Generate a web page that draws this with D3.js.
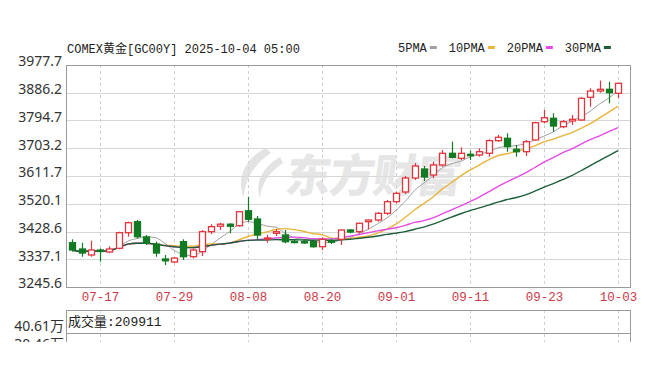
<!DOCTYPE html>
<html>
<head>
<meta charset="utf-8">
<script src="https://cdn.jsdelivr.net/npm/d3@7"></script>
<style>
body { margin: 0; background: #fff; }
svg { display: block; }
</style>
</head>
<body>
<svg id="chart"></svg>
<script>
// trading days shown on the chart
var dates = ["07-14","07-15","07-16","07-17","07-18","07-21","07-22","07-23","07-24","07-25",
             "07-28","07-29","07-30","07-31","08-01","08-04","08-05","08-06","08-07","08-08",
             "08-11","08-12","08-13","08-14","08-15","08-18","08-19","08-20","08-21","08-22",
             "08-25","08-26","08-27","08-28","08-29","09-01","09-02","09-03","09-04","09-05",
             "09-08","09-09","09-10","09-11","09-12","09-15","09-16","09-17","09-18","09-19",
             "09-22","09-23","09-24","09-25","09-26","09-29","09-30","10-01","10-02","10-03"];

var openPx  = [3391.7,3370.9,3351.1,3367.6,3361.0,3373.2,3424.7,3461.0,3410.5,3387.4,
               3338.0,3328.0,3395.0,3345.5,3362.0,3428.0,3446.0,3452.7,3447.7,3497.0,
               3469.8,3403.9,3422.7,3417.1,3396.0,3395.0,3395.0,3378.5,3397.3,3402.9,
               3433.6,3428.0,3461.0,3466.5,3488.6,3526.9,3558.9,3605.0,3634.7,3614.9,
               3647.9,3686.5,3670.0,3683.2,3680.9,3686.5,3728.1,3736.0,3699.7,3691.8,
               3730.4,3790.7,3801.9,3774.2,3793.0,3796.3,3871.2,3892.0,3897.6,3884.4];
var highPx  = [3402.9,3391.7,3398.3,3373.0,3380.0,3428.0,3461.0,3466.5,3417.0,3395.0,
               3351.0,3344.0,3402.9,3373.0,3433.6,3452.4,3457.6,3455.7,3496.0,3543.4,
               3479.7,3417.0,3435.9,3433.6,3400.6,3402.9,3397.0,3409.5,3402.9,3436.0,
               3436.9,3457.6,3468.0,3491.9,3532.5,3559.9,3611.6,3654.5,3644.6,3658.8,
               3697.4,3724.8,3706.3,3695.1,3703.0,3732.7,3746.9,3752.5,3713.9,3730.4,
               3790.7,3829.3,3818.4,3796.3,3812.8,3871.2,3900.9,3925.9,3922.6,3919.3];
var lowPx   = [3362.0,3345.5,3345.5,3329.0,3357.0,3370.0,3411.5,3406.0,3384.0,3345.5,
               3318.0,3324.0,3334.6,3340.0,3347.8,3420.0,3433.6,3422.7,3445.0,3460.9,
               3400.6,3391.7,3413.8,3389.7,3389.7,3387.4,3375.2,3367.6,3387.4,3384.1,
               3422.7,3422.7,3435.9,3461.0,3483.0,3521.6,3552.3,3598.5,3595.2,3604.0,
               3642.3,3670.0,3664.4,3664.4,3675.3,3675.3,3724.8,3691.8,3675.3,3677.6,
               3728.1,3785.4,3757.7,3769.0,3779.8,3794.0,3840.2,3886.3,3851.4,3867.9];
var closePx = [3367.6,3357.7,3367.6,3362.7,3371.0,3424.7,3457.6,3411.5,3390.7,3357.7,
               3332.0,3341.0,3345.5,3367.6,3428.0,3444.5,3452.7,3446.0,3493.9,3468.9,
               3417.0,3407.2,3428.0,3395.0,3394.0,3391.7,3378.5,3402.9,3394.0,3433.6,
               3427.0,3455.7,3466.5,3488.6,3526.9,3554.6,3605.0,3644.6,3608.3,3647.9,
               3686.5,3673.3,3686.5,3678.6,3691.8,3728.1,3739.3,3708.3,3691.8,3724.8,
               3787.4,3803.9,3776.5,3790.7,3798.6,3867.9,3892.0,3897.6,3886.3,3917.3];

var yTicks = [3245.6,3337.1,3428.6,3520.1,3611.7,3703.2,3794.7,3886.2,3977.7];
var xTicks = ["07-17","07-29","08-08","08-20","09-01","09-11","09-23","10-03"];
var maPeriods = [5, 10, 20, 30];
var volTicks = ["40.61万", "30.46万"];
var lastVolume = 209911;

var width = 650, height = 366,
    plotLeft = 66, plotRight = 630, plotTop = 65, plotBottom = 287,
    volTop = 310;

var upColor = "#e2343c", downColor = "#127a22";
var maColors = ["#a0a0a0", "#e9b43c", "#e64be6", "#1d5e3a"];
var monoFont = "'Liberation Mono', 'Noto Sans CJK SC', monospace";

var svg = d3.select("#chart")
    .attr("width", width)
    .attr("height", height)
    .style("font-family", "'Noto Sans', 'Noto Sans CJK SC', sans-serif");

var x = d3.scalePoint()
    .domain(dates)
    .range([72.25, 618]);

var y = d3.scaleLinear()
    .domain([yTicks[0], yTicks[yTicks.length - 1]])
    .range([plotBottom, plotTop]);

// horizontal grid
svg.append("g")
    .selectAll("line")
    .data(yTicks.slice(1, -1))
    .enter()
    .append("line")
    .attr("x1", plotLeft).attr("x2", plotRight)
    .attr("y1", function (d) { return Math.round(y(d)) + 0.5; })
    .attr("y2", function (d) { return Math.round(y(d)) + 0.5; })
    .style("stroke", "#d6d6d6");

// vertical dashed grid, price panel and volume panel
[[plotTop, plotBottom], [volTop, height]].forEach(function (span) {
    svg.append("g")
        .selectAll("line")
        .data(xTicks)
        .enter()
        .append("line")
        .attr("x1", function (d) { return Math.round(x(d)) + 0.5; })
        .attr("x2", function (d) { return Math.round(x(d)) + 0.5; })
        .attr("y1", span[0]).attr("y2", span[1])
        .style("stroke", "#cfcfcf")
        .style("stroke-dasharray", "3,3");
});

// watermark
var wm = svg.append("g").style("opacity", 0.75);
wm.append("path")
    .attr("d", "M266,148 C247,157 235,177 244,198 C244,181 254,164 271,153 Z M280,157 C264,166 254,182 260,198 C261,185 269,172 283,163 Z")
    .style("fill", "#dadada");
wm.append("text")
    .attr("x", 284).attr("y", 192)
    .attr("transform", "skewX(-8) translate(27,0)")
    .attr("textLength", 176)
    .style("font-family", "'Noto Sans CJK SC', sans-serif")
    .style("font-weight", 900)
    .style("font-size", "45px")
    .style("fill", "#dedede")
    .text("东方财富");

// moving averages, computed from the closes
maPeriods.forEach(function (n, k) {
    var ma = closePx.map(function (c, i) {
        return d3.mean(closePx.slice(Math.max(0, i - n + 1), i + 1));
    });
    var line = d3.line()
        .x(function (d, i) { return x(dates[i]); })
        .y(function (d) { return y(d); })
        .curve(d3.curveMonotoneX);
    svg.append("path")
        .datum(ma)
        .attr("d", line)
        .style("fill", "none")
        .style("stroke", maColors[k])
        .style("stroke-width", k === 0 ? 1 : 1.4);
});

// candles
var candle = svg.append("g")
    .selectAll("g")
    .data(dates)
    .enter()
    .append("g");

function isUp(i) { return closePx[i] >= openPx[i]; }

candle.append("line")
    .attr("x1", function (d) { return Math.round(x(d)) + 0.5; })
    .attr("x2", function (d) { return Math.round(x(d)) + 0.5; })
    .attr("y1", function (d, i) { return y(highPx[i]); })
    .attr("y2", function (d, i) { return y(lowPx[i]); })
    .style("stroke", function (d, i) { return isUp(i) ? upColor : downColor; })
    .style("stroke-width", 1.2);

candle.append("rect")
    .attr("x", function (d) { return Math.round(x(d)) - 2.5; })
    .attr("width", 6)
    .attr("y", function (d, i) { return y(Math.max(openPx[i], closePx[i])); })
    .attr("height", function (d, i) { return Math.max(1.2, Math.abs(y(openPx[i]) - y(closePx[i]))); })
    .style("fill", function (d, i) { return isUp(i) ? "#fff" : downColor; })
    .style("stroke", function (d, i) { return isUp(i) ? upColor : downColor; })
    .style("stroke-width", 1.3);

// frame
svg.append("rect")
    .attr("x", plotLeft + 0.5).attr("y", plotTop + 0.5)
    .attr("width", plotRight - plotLeft).attr("height", plotBottom - plotTop)
    .style("fill", "none")
    .style("stroke", "#9a9a9a");

// y axis
var yAxis = svg.append("g")
    .attr("transform", "translate(" + plotLeft + ",0)")
    .call(d3.axisLeft(y).tickValues(yTicks).tickFormat(d3.format(".1f")).tickSize(0).tickPadding(4));
yAxis.select(".domain").remove();
yAxis.selectAll("text")
    .attr("dy", "0.07em")
    .style("font-family", "'Noto Sans', sans-serif")
    .style("font-size", "14px")
    .style("fill", "#333");

// x axis
var xAxis = svg.append("g")
    .attr("transform", "translate(0," + plotBottom + ")")
    .call(d3.axisBottom(x).tickValues(xTicks).tickSize(0).tickPadding(5.5));
xAxis.select(".domain").remove();
xAxis.selectAll("text")
    .style("font-family", monoFont)
    .style("font-size", "12.5px")
    .style("fill", "#cc3a4a");

// title and legend
svg.append("text")
    .attr("x", 67).attr("y", 53)
    .style("font-family", monoFont)
    .style("font-size", "12px")
    .style("fill", "#222")
    .text("COMEX黄金[GC00Y] 2025-10-04 05:00");

var lx = 398;
maPeriods.forEach(function (n, k) {
    var t = svg.append("text")
        .attr("x", lx).attr("y", 52)
        .style("font-family", monoFont)
        .style("font-size", "12px")
        .style("fill", "#222")
        .text(n + "PMA");
    var w = t.node().getComputedTextLength();
    svg.append("rect")
        .attr("x", lx + w + 3).attr("y", 46)
        .attr("width", 7).attr("height", 3)
        .style("fill", maColors[k]);
    lx += w + 3 + 7 + 12;
});

// volume panel (only its top part is visible)
svg.append("rect")
    .attr("x", plotLeft + 0.5).attr("y", volTop + 0.5)
    .attr("width", plotRight - plotLeft).attr("height", 80)
    .style("fill", "none")
    .style("stroke", "#9a9a9a");
svg.append("line")
    .attr("x1", plotLeft).attr("x2", plotRight)
    .attr("y1", 333.5).attr("y2", 333.5)
    .style("stroke", "#9a9a9a");

svg.append("text")
    .attr("x", 68).attr("y", 326)
    .style("font-family", monoFont)
    .style("font-size", "13px")
    .style("fill", "#222")
    .text("成交量:" + lastVolume);

svg.selectAll(".vtick")
    .data(volTicks)
    .enter()
    .append("text")
    .attr("class", "vtick")
    .attr("x", 64)
    .attr("y", function (d, i) { return 331 + i * 18; })
    .attr("text-anchor", "end")
    .style("font-size", "14px")
    .style("fill", "#333")
    .text(function (d) { return d; });

// the picture is cut off below the volume header
svg.append("rect")
    .attr("x", 0).attr("y", 342)
    .attr("width", width).attr("height", height - 342)
    .style("fill", "#fff");
</script>
</body>
</html>
